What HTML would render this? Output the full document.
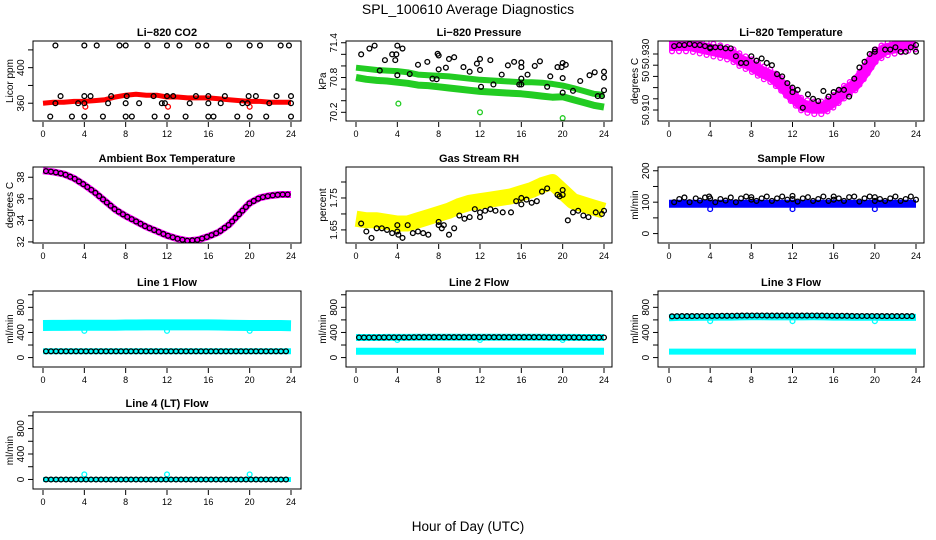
<!DOCTYPE html>
<html><head><meta charset="utf-8">
<style>
html,body{margin:0;padding:0;background:#fff;}
svg{display:block;font-family:"Liberation Sans",Arial,sans-serif;}
</style></head>
<body>
<svg id="chart" width="936" height="540" viewBox="0 0 936 540">
<text x="468" y="14" text-anchor="middle" font-size="14">SPL_100610  Average Diagnostics</text>
<text x="468" y="531" text-anchor="middle" font-size="13.5">Hour of Day (UTC)</text>
</svg>
<script>
// ---- data ----
const hoursTicks = [0,4,8,12,16,20,24];
// CO2
const co2Band = [360,361,361,362,362,363,364,367,369,370,369,369,367,367,366,366,366,365,364,363,362,362,361,361,361];
const co2BlackH = [1.2,4,5.2,7.4,8,10.1,12,13.2,15,15.8,18,20,21,23,23.8, 1.7,4,4.6,6.6,8.1,10.7,12,12.6,14.8,16,17.6,19.9,20.6,22.6,24, 1.2,3.4,4,6.3,8,9.3,11.5,11.8,14.2,16,17.2,19.3,19.8,21.9,24, 0.7,2.8,4,5.8,8,8.6,10.8,12,13.8,16,16.5,18.8,20,21.6,24];
const co2BlackV = [425,425,425,425,425,425,425,425,425,425,425,425,425,425,425, 368,368,368,368,368,368,368,368,368,368,368,368,368,368,368, 360,360,360,360,360,360,360,360,360,360,360,360,360,360,360, 345,345,345,345,345,345,345,345,345,345,345,345,345,345,345];
const co2RedH = [4.1,12.1,20];
const co2RedV = [356,356,356];
// Pressure
const presUpper = [70.97,70.95,70.93,70.92,70.91,70.89,70.85,70.84,70.83,70.82,70.80,70.78,70.76,70.75,70.74,70.73,70.72,70.72,70.71,70.69,70.66,70.62,70.57,70.52,70.50];
const presLower = [70.80,70.77,70.75,70.74,70.72,70.70,70.67,70.66,70.64,70.62,70.60,70.58,70.56,70.55,70.54,70.53,70.52,70.50,70.48,70.46,70.47,70.42,70.37,70.32,70.29];
const presBlackH = [0.5,1.3,1.8,2.3,2.8,3.5,3.8,3.9,4,4,4.5,5.2,6,6.9,7.4,7.8,7.9,8,8,8.7,9,9.5,10.4,11,11.7,12,12,12.1,13,13.3,14.1,14.7,15.3,15.8,16,16,16,16,16.6,17.3,17.8,18.5,18.8,19.5,19.9,20,20,20,20.3,21,21.7,22.6,23.1,23.4,23.8,24,24,24];
const presBlackV = [71.2,71.3,71.35,70.92,71.1,71.2,71.1,71.2,71.35,70.84,71.3,70.86,71.02,71.07,70.78,70.77,71.21,70.94,71.18,70.97,71.12,71.15,70.98,70.9,71.04,71.12,70.93,70.64,71.1,70.68,70.85,71.01,71.07,70.68,70.98,71.06,70.68,70.78,70.85,71.0,71.08,70.64,70.82,70.98,70.98,71.05,70.79,70.54,71.02,70.57,70.74,70.84,70.89,70.48,70.48,70.9,70.8,70.58];
const presGreenH = [4.1,12,20];
const presGreenV = [70.35,70.2,70.1];
// Li-820 temperature
const tempBand = [50.934,50.934,50.934,50.933,50.932,50.931,50.930,50.927,50.925,50.922,50.920,50.916,50.911,50.907,50.906,50.906,50.909,50.913,50.916,50.922,50.929,50.932,50.933,50.934,50.935];
const tempBlackH = [0.5,1,1.5,2,2.5,3,3.5,4,4,4.5,5,5.5,6,6.5,7,7.5,8,8.5,9,9.5,10,10.5,11,11.5,12,12,12.5,13,13.5,14,14.5,15,15.5,16,16.5,17,17.5,18,18.5,19,19.5,20,20,21,21.5,22,22.5,23,23.5,24,24];
const tempBlackV = [50.9335,50.934,50.934,50.9345,50.934,50.934,50.9335,50.933,50.9325,50.933,50.933,50.9325,50.9325,50.929,50.926,50.926,50.929,50.927,50.928,50.926,50.925,50.921,50.920,50.917,50.915,50.913,50.914,50.906,50.912,50.910,50.909,50.9135,50.911,50.913,50.914,50.914,50.911,50.919,50.924,50.9265,50.930,50.932,50.931,50.932,50.932,50.933,50.931,50.931,50.933,50.934,50.931];
// Ambient box temperature
const ambBand = [38.6,38.5,38.3,37.9,37.3,36.6,35.8,35.0,34.4,33.9,33.4,33.0,32.6,32.3,32.1,32.2,32.5,32.9,33.6,34.6,35.6,36.1,36.3,36.4,36.4];
// Gas stream RH
const rhBand = [1.685,1.68,1.68,1.675,1.67,1.67,1.68,1.69,1.70,1.71,1.725,1.735,1.74,1.745,1.75,1.755,1.765,1.775,1.79,1.80,1.77,1.74,1.73,1.72,1.71];
const rhBlackH = [0.5,1,1.5,2,2.5,3,3.5,4,4,4.1,4.5,5,5.5,6,6.5,7,8,8,8.3,8.5,9,9.5,10,10.5,11,11.5,12,12,12.5,13,13.5,14.2,15,15.5,16,16,16.5,17,17.5,18,18.5,19.5,19.7,20,20,20.5,21,21.5,22,22.5,23.2,23.8,24];
const rhBlackV = [1.67,1.645,1.625,1.655,1.655,1.65,1.64,1.665,1.645,1.635,1.625,1.665,1.64,1.645,1.64,1.635,1.675,1.665,1.655,1.665,1.635,1.655,1.695,1.685,1.69,1.715,1.705,1.69,1.71,1.715,1.71,1.705,1.705,1.74,1.75,1.73,1.745,1.735,1.74,1.77,1.78,1.76,1.755,1.775,1.76,1.68,1.705,1.71,1.695,1.69,1.705,1.70,1.71];
// Sample flow
const sfBand = [95,95,95,95,95,95,95,95,95,95,95,95,95,95,95,95,95,95,95,95,95,95,95,95,95];
const sfBlackH = [0.5,1,1.5,2,2.6,3,3.5,3.9,4,4.5,5,5.5,6,6.5,7,7.5,8,8,8.5,9,9.5,10,10.5,11,11.5,12,12,12.5,13,13.5,14,14.5,15,15.5,16,16,16.5,17,17.5,18,18.5,19,19.5,20,20,20.5,21,21.5,22,22.5,23,23.5,24];
const sfBlackV = [100,110,115,100,112,105,115,118,112,100,110,105,115,100,112,118,108,116,104,112,118,104,112,118,108,120,110,102,112,116,104,110,118,104,108,118,112,104,116,118,102,112,118,104,116,110,104,112,118,104,110,118,108];
const sfBlueH = [4,12,20];
const sfBlueV = [78,78,78];
// Line flows
const l1Upper = [510,512,512,514,515,515,516,516,518,518,520,520,520,520,520,520,520,518,515,512,510,510,510,510,508];
const l1Lower = [100,100,100,100,100,100,100,100,100,100,100,100,100,100,100,100,100,100,100,100,100,100,100,100,100];
const l1OutH = [4,12,20];
const l1OutV = [425,425,425];
const l2Upper = [320,320,320,322,322,322,325,325,325,325,325,325,325,325,325,325,325,325,325,322,322,322,320,320,320];
const l2Lower = [100,100,100,100,100,100,100,100,100,100,100,100,100,100,100,100,100,100,100,100,100,100,100,100,100];
const l2OutH = [4,12,20];
const l2OutV = [280,280,280];
const l3Upper = [655,660,660,662,662,665,665,668,670,670,668,668,668,668,670,668,665,665,662,662,662,660,660,660,660];
const l3Lower = [95,95,95,95,95,95,95,95,95,95,95,95,95,95,95,95,95,95,95,95,95,95,95,95,95];
const l3OutH = [4,12,20];
const l3OutV = [580,580,580];
const l4Band = [0,0,0,0,0,0,0,0,0,0,0,0,0,0,0,0,0,0,0,0,0,0,0,0,0];
const l4OutH = [4,12,20];
const l4OutV = [80,80,80];

// ---- layout ----
const NS = "http://www.w3.org/2000/svg";
const svg = document.getElementById('chart');
const COLS = [{l:33,r:301,x0:43,x24:291},{l:346,r:612,x0:356,x24:604},{l:658,r:924,x0:669,x24:916}];
const ROWS = [{t:41,b:121},{t:167,b:243},{t:291,b:367},{t:412,b:489}];
function mk(tag, attrs, parent){ const e=document.createElementNS(NS,tag); for(const k in attrs) e.setAttribute(k,attrs[k]); (parent||svg).appendChild(e); return e; }

function panel(ci, ri, name, title, ylab, ymin, ymax, ticks, labels){
  const c=COLS[ci], r=ROWS[ri];
  const g=mk('g',{});
  
  
  const P={g:g, xs:h=>c.x0+h/24*(c.x24-c.x0), ys:v=>r.b-(v-ymin)/(ymax-ymin)*(r.b-r.t)};
  const clip=mk('clipPath',{id:'clip-'+name},g); mk('rect',{x:c.l,y:r.t,width:c.r-c.l,height:r.b-r.t},clip);
  P.plot=mk('g',{'clip-path':'url(#clip-'+name+')'},g);
  
  
  const box=mk('rect',{x:c.l,y:r.t,width:c.r-c.l,height:r.b-r.t,fill:'none',stroke:'#000','stroke-width':1},g);
  
  
  const tt=mk('text',{x:(c.l+c.r)/2,y:r.t-5,'text-anchor':'middle','font-size':11,'font-weight':'bold'},g);
  tt.textContent=title;
  
  
  hoursTicks.forEach(h=>{
    const x=P.xs(h);
    mk('line',{x1:x,x2:x,y1:r.b+1,y2:r.b+6,stroke:'#000'},g);
    const t=mk('text',{x:x,y:r.b+16,'text-anchor':'middle','font-size':9},g);
    t.textContent=h;
    
    
  });
  ticks.forEach((v,i)=>{
    const y=P.ys(v);
    mk('line',{x1:c.l-5,x2:c.l,y1:y,y2:y,stroke:'#000'},g);
    if(labels[i]){
      const t=mk('text',{x:0,y:0,'text-anchor':'middle','font-size':10,transform:`translate(${c.l-9},${y}) rotate(-90)`},g);
      t.textContent=labels[i];
      
      
    }
  });
  const yl=mk('text',{x:0,y:0,'text-anchor':'middle','font-size':10,transform:`translate(${c.l-20},${(r.t+r.b)/2}) rotate(-90)`},g);
  yl.textContent=ylab;
  
  
  return P;
}
function bandPath(P, vals){ return vals.map((v,i)=>(i?'L':'M')+P.xs(i).toFixed(1)+','+P.ys(v).toFixed(1)).join(''); }
function band(P, vals, color, w, nm){
  const p=mk('path',{d:bandPath(P,vals),fill:'none',stroke:color,'stroke-width':w,'stroke-linejoin':'round','stroke-linecap':'butt'},P.plot);
  
  
  return p;
}
function rings(P, vals, color, step, nm){
  const p=mk('path',{d:bandPath(P,vals),fill:'none',stroke:'none'},P.plot);
  const L=p.getTotalLength();
  const g=mk('g',{},P.plot);
  
  
  for(let s=3;s<L;s+=step){ const q=p.getPointAtLength(s); mk('circle',{cx:q.x,cy:q.y,r:2.4,fill:'none',stroke:color,'stroke-width':1.3},g); }
}
function pts(P, hs, vs, color, nm){
  const g=mk('g',{},P.plot);
  
  
  hs.forEach((h,i)=>{ const c=mk('circle',{cx:P.xs(h),cy:P.ys(vs[i]),r:2.4,fill:'none',stroke:color,'stroke-width':1.3},g);
    
     });
}

let P=panel(0,0,'co2','Li\u2212820 CO2','Licor ppm',340,430,[360,380,400,420],['360','','400','']);
band(P,co2Band,'#f00',5,'co2-band');
pts(P,co2RedH,co2RedV,'#f00','co2-red-outliers');
pts(P,co2BlackH,co2BlackV,'#000','co2-black-points');

P=panel(1,0,'pressure','Li\u2212820 Pressure','kPa',70.05,71.43,[70.2,70.4,70.6,70.8,71.0,71.2,71.4],['70.2','','','70.8','','','71.4']);
band(P,presUpper,'#22cc22',6,'pressure-upper-band');
band(P,presLower,'#22cc22',7,'pressure-lower-band');
pts(P,presGreenH,presGreenV,'#22cc22','pressure-green-outliers');
pts(P,presBlackH,presBlackV,'#000','pressure-black-points');

P=panel(2,0,'li820-temp','Li\u2212820 Temperature','degrees C',50.9001,50.9358,[50.905,50.910,50.915,50.920,50.925,50.930],['50.910','','','50','','50.930']);
band(P,tempBand,'#ff00ff',12,'li820-temp-band');
rings(P,tempBand.map(v=>v+0.0028),'#ff00ff',7,'li820-temp-upper-scatter');
rings(P,tempBand.map(v=>v-0.0028),'#ff00ff',7,'li820-temp-lower-scatter');
pts(P,tempBlackH,tempBlackV,'#000','li820-temp-black-points');

P=panel(0,1,'ambient','Ambient Box Temperature','degrees C',31.9,38.95,[32,34,36,38],['32','34','36','38']);
band(P,ambBand,'#ff00ff',7,'ambient-band');
rings(P,ambBand,'#000',5,'ambient-black-points');

P=panel(1,1,'rh','Gas Stream RH','percent',1.609,1.847,[1.65,1.70,1.75,1.80],['1.65','','1.75','']);
band(P,rhBand,'#ffff00',16,'rh-band');
pts(P,rhBlackH,rhBlackV,'#000','rh-black-points');

P=panel(2,1,'sample-flow','Sample Flow','ml/min',-30,212,[0,50,100,150,200],['0','','100','','200']);
band(P,sfBand,'#0000ff',8,'sample-flow-band');
pts(P,sfBlueH,sfBlueV,'#0000ff','sample-flow-blue-outliers');
pts(P,sfBlackH,sfBlackV,'#000','sample-flow-black-points');

const fT=[0,200,400,600,800,1000], fL=['0','','400','','800',''];
P=panel(0,2,'line1','Line 1 Flow','ml/min',-150,1060,fT,fL);
band(P,l1Upper,'#00ffff',11,'line1-upper-band');
band(P,l1Lower,'#00ffff',6,'line1-lower-band');
pts(P,l1OutH,l1OutV,'#00ffff','line1-outliers');
rings(P,l1Lower,'#000',5,'line1-black-points');
P=panel(1,2,'line2','Line 2 Flow','ml/min',-150,1060,fT,fL);
band(P,l2Upper,'#00ffff',7,'line2-upper-band');
band(P,l2Lower,'#00ffff',7,'line2-lower-band');
pts(P,l2OutH,l2OutV,'#00ffff','line2-outliers');
rings(P,l2Upper,'#000',5,'line2-black-points');
P=panel(2,2,'line3','Line 3 Flow','ml/min',-150,1060,fT,fL);
band(P,l3Upper.map(v=>v-20),'#00ffff',7,'line3-upper-band');
band(P,l3Lower,'#00ffff',6,'line3-lower-band');
pts(P,l3OutH,l3OutV,'#00ffff','line3-outliers');
rings(P,l3Upper,'#000',5,'line3-black-points');
P=panel(0,3,'line4','Line 4 (LT) Flow','ml/min',-150,1060,fT,fL);
band(P,l4Band,'#00ffff',5,'line4-band');
pts(P,l4OutH,l4OutV,'#00ffff','line4-outliers');
rings(P,l4Band,'#000',5,'line4-black-points');
</script>
</body></html>
